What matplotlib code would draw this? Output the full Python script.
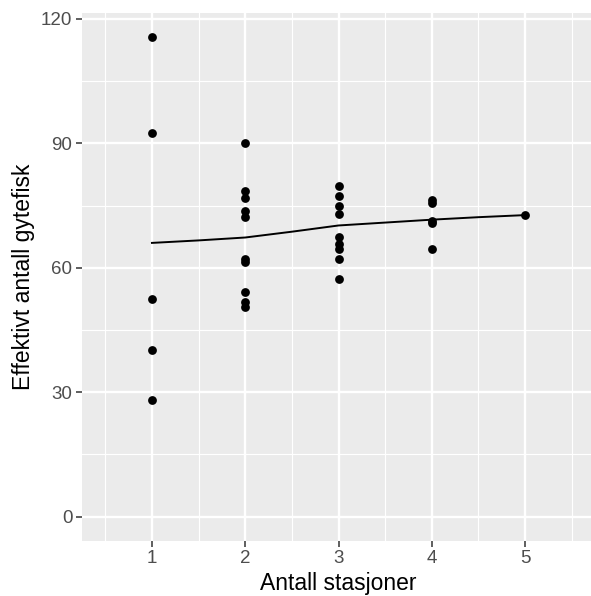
import matplotlib
matplotlib.use("Agg")
from matplotlib import pyplot as plt
from matplotlib.ticker import MultipleLocator

plt.rcParams['font.family'] = ['Liberation Sans', 'DejaVu Sans']

# points, grouped by number of stations
stations_1 = [115.7, 92.5, 52.5, 40.2, 28.2]
stations_2 = [90.2, 78.6, 76.9, 73.6, 72.2, 62.0, 61.4, 54.1, 51.7, 50.6]
stations_3 = [79.8, 77.2, 75.0, 72.9, 67.5, 65.8, 64.6, 62.2, 57.3]
stations_4 = [76.3, 75.6, 71.3, 70.7, 64.5]
stations_5 = [72.8]

# smooth (loess) line read at half steps
smooth_x = [1, 1.5, 2, 2.5, 3, 3.5, 4, 4.5, 5]
smooth_y = [66.0, 66.6, 67.3, 68.7, 70.2, 70.9, 71.6, 72.2, 72.7]

groups = [stations_1, stations_2, stations_3, stations_4, stations_5]
xs = []
ys = []
for i, g in enumerate(groups):
    xs += [i + 1] * len(g)
    ys += g

fig = plt.figure(figsize=(5.91, 5.96), dpi=100)
ax = fig.add_axes([82 / 591, 55.3 / 596, 513 / 591, 528 / 596])
ax.set_facecolor('#EBEBEB')
for s in ax.spines.values():
    s.set_visible(False)

ax.set_xlim(0.25, 5.75)
ax.set_ylim(-5.8, 121.5)
ax.xaxis.set_minor_locator(MultipleLocator(0.5))
ax.yaxis.set_minor_locator(MultipleLocator(15))
ax.set_xticks([1, 2, 3, 4, 5])
ax.set_yticks([0, 30, 60, 90, 120])

ax.grid(which='major', color='white', linewidth=1.7)
ax.grid(which='minor', color='white', linewidth=0.85)
ax.set_axisbelow(True)
ax.tick_params(which='minor', length=0)
ax.tick_params(which='major', length=4, width=1.1, color='#333333',
               labelsize=13.5, labelcolor='#4D4D4D', pad=3)

ax.plot(smooth_x, smooth_y, color='black', linewidth=1.4, zorder=3)
ax.scatter(xs, ys, s=40, color='black', zorder=4, linewidths=0)

ax.set_xlabel('Antall stasjoner', fontsize=16.5, color='black', labelpad=3)
ax.set_ylabel('Effektivt antall gytefisk', fontsize=16.5, color='black', labelpad=4)

fig.savefig('out.png', dpi=100)
